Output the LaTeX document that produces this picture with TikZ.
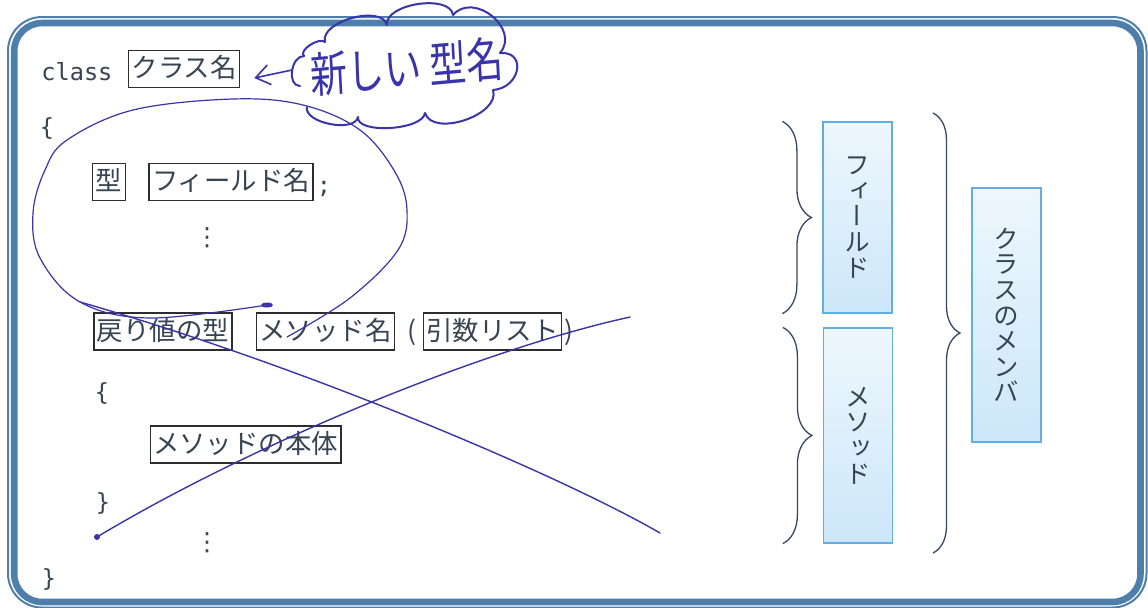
\documentclass[tikz,border=0pt]{standalone}
\usepackage{fontspec}
\usepackage{tikz}
\usetikzlibrary{arrows.meta,decorations.pathreplacing}
\newfontfamily\jpfont{Noto Sans CJK JP}
\newfontfamily\jpvert[RawFeature=+vert]{Noto Sans CJK JP}
\newfontfamily\codefont{DejaVu Sans Mono}
\newfontfamily\symfont{DejaVu Sans}
\definecolor{framecol}{RGB}{78,126,170}
\definecolor{txt}{RGB}{55,68,82}
\definecolor{boxline}{RGB}{45,45,45}
\definecolor{ink}{RGB}{58,52,170}
\definecolor{memline}{RGB}{95,175,228}
\definecolor{memtop}{RGB}{238,247,253}
\definecolor{membot}{RGB}{204,231,249}
\definecolor{bracecol}{RGB}{55,72,100}

\begin{document}
\begin{tikzpicture}[x=0.5pt,y=0.5pt,
  code/.style={text=txt, inner sep=0pt, font=\codefont\fontsize{11.8}{12}\selectfont},
  plain/.style={text=txt, inner sep=0pt, font=\jpfont\fontsize{13.2}{13.2}\selectfont},
  more/.style={text=txt, inner sep=0pt, font=\symfont\fontsize{12.5}{12.5}\selectfont},
  namebox/.style={draw=boxline, line width=0.6pt, text=txt, inner xsep=1.5pt, inner ysep=2.5pt,
    text height=11pt, text depth=2.5pt, font=\jpfont\fontsize{13.2}{13.2}\selectfont},
  member/.style={draw=memline, line width=0.6pt, top color=memtop, bottom color=membot, text=txt,
    minimum width=34.5pt, align=center, font=\jpvert\fontsize{12.8}{12.8}\selectfont},
  curly/.style={bracecol, line width=0.65pt, decorate, decoration={brace, amplitude=14.5pt}},
  hand/.style={ink, line width=0.7pt, line cap=round, line join=round}]
\fill[white] (0,0) rectangle (1148,-607);
\useasboundingbox (0,0) rectangle (1148,-607);

% frame
\draw[framecol, line width=1pt, rounded corners=17pt] (8,-17) rectangle (1146.5,-607.5);
\draw[framecol, line width=3.3pt, rounded corners=14pt] (14.2,-23) rectangle (1140.5,-602);

% class skeleton
\node[code, anchor=base west] (kw) at (41,-80) {class};
\node[namebox, anchor=west] (classname) at (128,-69) {クラス名};
\node[code] (open1) at (47,-128) {\{};
\node[namebox] (type) at (109,-182) {型};
\node[namebox] (fieldname) at (231,-182) {フィールド名};
\node[code, anchor=base west] (semi) at ([shift={(1.5pt,-5.5pt)}]fieldname.east) {;};
\node[more] (dots1) at (207,-238) {⋮};
\node[namebox] (rettype) at (163,-331.5) {戻り値の型};
\node[namebox] (methodname) at (325.5,-331.5) {メソッド名};
\node[plain] (lp) at (412,-332) {(};
\node[namebox] (args) at (492.5,-331.5) {引数リスト};
\node[plain] (rp) at (569,-332) {)};
\node[code] (open2) at (102,-393) {\{};
\node[namebox] (body) at (245.5,-444.5) {メソッドの本体};
\node[code] (close2) at (103,-503) {\}};
\node[more] (dots2) at (207,-543) {⋮};
\node[code] (close1) at (49,-579) {\}};

% members
\node[member, minimum height=95.5pt] (field) at (857.5,-217.5) {フ\\ィ\\ー\\ル\\ド};
\node[member, minimum height=107.5pt] (method) at (858,-435.5) {メ\\ソ\\ッ\\ド};
\node[member, minimum height=127pt] (members) at (1006.5,-315) {ク\\ラ\\ス\\の\\メ\\ン\\バ};
\draw[curly] ([xshift=-20pt]field.north west) -- ([xshift=-20pt]field.south west);
\draw[curly] ([xshift=-20pt]method.north west) -- ([xshift=-20pt]method.south west);
\draw[curly, decoration={amplitude=13.5pt}] (933,-113) -- (933,-553);

% pen notes
\draw[hand, line width=1pt] (300,-86) .. controls (286.7,-86) and (290.7,-56) .. (304,-56)
  .. controls (298,-50.7) and (319,-36.7) .. (325,-42)
  .. controls (319.7,-21.3) and (381.7,-4.3) .. (387,-25)
  .. controls (384.3,-3.7) and (450.3,6.3) .. (453,-15)
  .. controls (473.7,9) and (520.7,-29) .. (500,-53)
  .. controls (527.3,-51) and (520.3,-88) .. (493,-90)
  .. controls (501,-114.7) and (433,-137.7) .. (425,-113)
  .. controls (423,-130.3) and (356,-134.3) .. (358,-117)
  .. controls (354.7,-133) and (303.7,-123) .. (307,-107);
\node[text=ink, inner sep=0pt, font=\jpfont\fontsize{18.5}{18.5}\selectfont, yscale=1.3, rotate=4] (newtype) at (407,-67) {新しい 型名};
\coordinate (cloudL) at (292,-70);
\draw[hand, line width=0.8pt, -{Straight Barb[length=7pt,width=10pt]}] (cloudL) -- ([shift={(7pt,-4.5pt)}]classname.east);
\draw[hand, line width=0.6pt] plot[smooth, tension=0.6] coordinates {(267,-305) (150,-318) (80,-302) (40,-258) (33,-213) (45,-170) (67,-140) (133,-110) (233,-99) (303,-105) (360,-130) (395,-172) (407,-210) (398,-250) (350,-298) (287,-337)};
\fill[ink] (267,-305) ellipse (6 and 2.5);
\draw[hand] (80,-302) .. controls (300,-365) and (560,-475) .. (660,-533);
\draw[hand] (97,-537) .. controls (250,-445) and (480,-350) .. (630,-317);
\fill[ink] (97,-537) circle (3);
\end{tikzpicture}
\end{document}
